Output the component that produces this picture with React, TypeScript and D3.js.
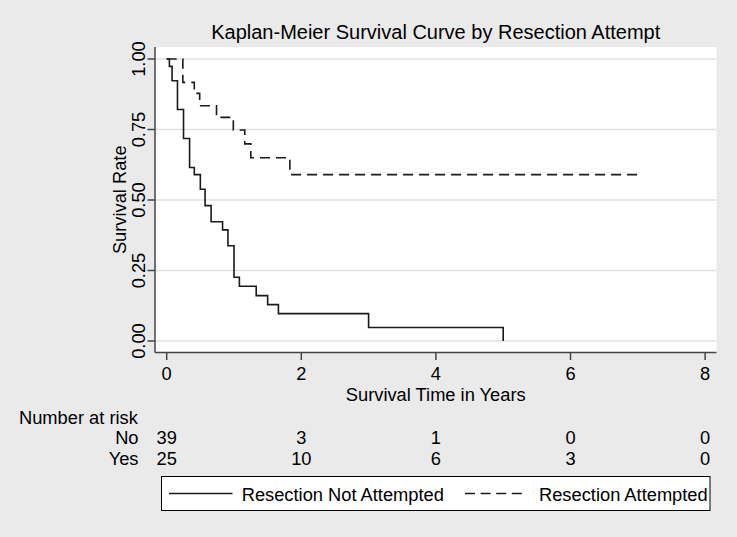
import React from "react";
import * as d3 from "d3";

const notAttemptedTimes = [0, 0.04, 0.08, 0.16, 0.25, 0.34, 0.41, 0.5, 0.57, 0.66, 0.83, 0.91, 1.0, 1.08, 1.33, 1.5, 1.66, 3.0, 5.0];
const notAttemptedSurv = [1.0, 0.974, 0.923, 0.821, 0.718, 0.615, 0.59, 0.538, 0.48, 0.423, 0.394, 0.338, 0.226, 0.194, 0.161, 0.129, 0.097, 0.048, 0.0];

const attemptedTimes = [0, 0.24, 0.41, 0.49, 0.74, 0.99, 1.16, 1.25, 1.83, 7.0];
const attemptedSurv = [1.0, 0.917, 0.878, 0.834, 0.793, 0.748, 0.699, 0.65, 0.59, 0.59];

const xTicks = [0, 2, 4, 6, 8];
const yTicks = [0, 0.25, 0.5, 0.75, 1.0];
const yTickLabels = ["0.00", "0.25", "0.50", "0.75", "1.00"];

const riskGroups = ["No", "Yes"];
const riskNo = [39, 3, 1, 0, 0];
const riskYes = [25, 10, 6, 3, 0];

const title = "Kaplan-Meier Survival Curve by Resection Attempt";
const xTitle = "Survival Time in Years";
const yTitle = "Survival Rate";
const legendLabels = ["Resection Not Attempted", "Resection Attempted"];

const W = 737;
const H = 537;
const FONT = "'Liberation Sans', Arial, sans-serif";
const FS = 18.3;

export default function App() {
  const plot = { left: 155, right: 716.5, top: 47, bottom: 352.5 };
  const x = d3.scaleLinear().domain([0, 8]).range([166.7, 705.1]);
  const y = d3.scaleLinear().domain([0, 1]).range([341, 59]);

  const line = d3
    .line<[number, number]>()
    .x((d) => x(d[0]))
    .y((d) => y(d[1]))
    .curve(d3.curveStepAfter);

  const solidPts = notAttemptedTimes.map((t, i) => [t, notAttemptedSurv[i]] as [number, number]);
  const dashPts = attemptedTimes.map((t, i) => [t, attemptedSurv[i]] as [number, number]);

  const lineColor = "#1a1a1a";
  const riskRows = [riskNo, riskYes];
  const riskBaselines = [444, 465];

  return (
    <svg
      width={W}
      height={H}
      style={{ position: "absolute", left: 0, top: 0 }}
      fontFamily={FONT}
    >
      <rect x={0} y={0} width={W} height={H} fill="#eaeaea" />
      <rect
        x={plot.left}
        y={plot.top}
        width={plot.right - plot.left}
        height={plot.bottom - plot.top}
        fill="#ffffff"
      />
      {yTicks.map((v) => (
        <line
          key={"g" + v}
          x1={plot.left}
          x2={plot.right}
          y1={y(v)}
          y2={y(v)}
          stroke="#e0e0e0"
          strokeWidth={1.5}
        />
      ))}
      <path d={line(solidPts) || ""} fill="none" stroke={lineColor} strokeWidth={1.6} />
      <path
        d={line(dashPts) || ""}
        fill="none"
        stroke={lineColor}
        strokeWidth={1.6}
        strokeDasharray="10 6"
      />
      {/* axes */}
      <line x1={plot.left} x2={plot.left} y1={plot.top} y2={plot.bottom} stroke="#444" strokeWidth={1.5} />
      <line x1={plot.left} x2={plot.right} y1={plot.bottom} y2={plot.bottom} stroke="#444" strokeWidth={1.5} />
      {yTicks.map((v, i) => (
        <g key={"yt" + v}>
          <line x1={147.5} x2={plot.left} y1={y(v)} y2={y(v)} stroke="#444" strokeWidth={1.5} />
          <text
            transform={`translate(145,${y(v)}) rotate(-90)`}
            textAnchor="middle"
            fontSize={FS}
            fill="#000"
          >
            {yTickLabels[i]}
          </text>
        </g>
      ))}
      {xTicks.map((v) => (
        <g key={"xt" + v}>
          <line x1={x(v)} x2={x(v)} y1={plot.bottom} y2={360} stroke="#444" strokeWidth={1.5} />
          <text x={x(v)} y={380} textAnchor="middle" fontSize={FS} fill="#000">
            {v}
          </text>
        </g>
      ))}
      <text
        transform={`translate(125.5,${(plot.top + plot.bottom) / 2}) rotate(-90)`}
        textAnchor="middle"
        fontSize={FS}
        fill="#000"
      >
        {yTitle}
      </text>
      <text x={(plot.left + plot.right) / 2} y={400.5} textAnchor="middle" fontSize={FS} fill="#000">
        {xTitle}
      </text>
      <text x={(plot.left + plot.right) / 2} y={39} textAnchor="middle" fontSize={20} fill="#000">
        {title}
      </text>
      {/* risk table */}
      <text x={19} y={424} fontSize={FS} fill="#000">
        Number at risk
      </text>
      {riskGroups.map((g, gi) => (
        <g key={g}>
          <text x={138.5} y={riskBaselines[gi]} textAnchor="end" fontSize={FS} fill="#000">
            {g}
          </text>
          {xTicks.map((t, ti) => (
            <text
              key={t}
              x={x(t)}
              y={riskBaselines[gi]}
              textAnchor="middle"
              fontSize={FS}
              fill="#000"
            >
              {riskRows[gi][ti]}
            </text>
          ))}
        </g>
      ))}
      {/* legend */}
      <rect x={161.5} y={476.5} width={548.5} height={34} fill="#ffffff" stroke="#000" strokeWidth={1} />
      <line x1={169} x2={232.5} y1={493.5} y2={493.5} stroke={lineColor} strokeWidth={1.6} />
      <text x={241.7} y={501} fontSize={FS} fill="#000">
        {legendLabels[0]}
      </text>
      <line
        x1={465}
        x2={522}
        y1={493.5}
        y2={493.5}
        stroke={lineColor}
        strokeWidth={1.6}
        strokeDasharray="10 5.6"
      />
      <text x={539} y={501} fontSize={FS} fill="#000">
        {legendLabels[1]}
      </text>
    </svg>
  );
}
